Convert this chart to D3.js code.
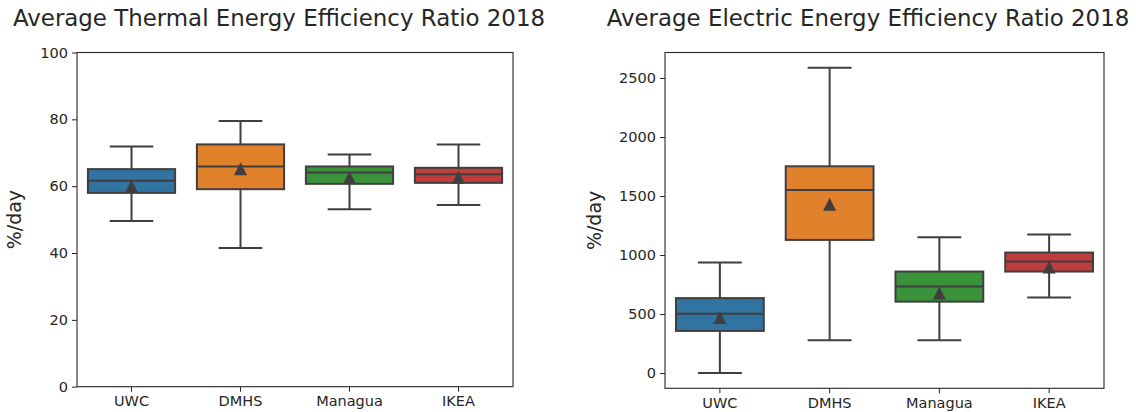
<!DOCTYPE html>
<html>
<head>
<meta charset="utf-8">
<script src="https://cdn.jsdelivr.net/npm/d3@7"></script>
<style>
  html, body { margin: 0; padding: 0; background: #ffffff; }
  svg { display: block; font-family: "DejaVu Sans", sans-serif; }
</style>
</head>
<body>
<svg id="chart" width="1136" height="412"></svg>
<script>
// Sites compared in both panels
const categories = ["UWC", "DMHS", "Managua", "IKEA"];

// Thermal energy efficiency ratio (%/day): whisker ends, quartiles, median, mean
const thermalLow    = [49.6, 41.5, 53.1, 54.4];
const thermalQ1     = [58.0, 59.1, 60.7, 61.0];
const thermalMedian = [61.6, 65.9, 64.1, 63.6];
const thermalQ3     = [65.1, 72.5, 65.9, 65.5];
const thermalHigh   = [71.9, 79.5, 69.5, 72.5];
const thermalMean   = [60.0, 65.2, 62.6, 62.7];

// Electric energy efficiency ratio (%/day)
const electricLow    = [0, 278, 278, 641];
const electricQ1     = [357, 1128, 605, 860];
const electricMedian = [503, 1552, 734, 945];
const electricQ3     = [635, 1752, 860, 1021];
const electricHigh   = [936, 2587, 1150, 1175];
const electricMean   = [470, 1430, 679, 899];

// Axis ticks
const thermalTicks  = [0, 20, 40, 60, 80, 100];
const electricTicks = [0, 500, 1000, 1500, 2000, 2500];

const colors = ["#3274a1", "#e1812c", "#3a923a", "#c03d3e"];
const lineColor = "#3f3f3f";
const textColor = "#262626";

const svg = d3.select("#chart");

function buildRows(low, q1, med, q3, high, mean) {
  return categories.map((c, i) => ({
    cat: c, low: low[i], q1: q1[i], med: med[i], q3: q3[i], high: high[i], mean: mean[i], color: colors[i]
  }));
}

function drawPanel(cfg) {
  const g = svg.append("g");
  const x = d3.scaleBand().domain(categories).range([cfg.left, cfg.right]).paddingInner(0).paddingOuter(0);
  const y = d3.scaleLinear().domain(cfg.domain).range([cfg.bottom, cfg.top]);
  const bw = x.bandwidth() * 0.8;
  const capW = bw / 2;

  // y axis
  const yAxis = g.append("g")
    .attr("transform", `translate(${cfg.left},0)`)
    .call(d3.axisLeft(y).tickValues(cfg.ticks).tickSize(5).tickPadding(4).tickFormat(d3.format("d")));
  // x axis
  const xAxis = g.append("g")
    .attr("transform", `translate(0,${cfg.bottom})`)
    .call(d3.axisBottom(x).tickSize(5).tickPadding(4));
  [yAxis, xAxis].forEach(a => {
    a.select(".domain").remove();
    a.selectAll(".tick line").attr("stroke", textColor).attr("stroke-width", 1);
    a.selectAll(".tick text").attr("fill", textColor).style("font-size", "14.5px")
      .style("font-family", "'DejaVu Sans', sans-serif");
  });

  const rows = buildRows(...cfg.data);
  const boxes = g.selectAll(".box").data(rows).join("g").attr("class", "box");
  const cx = d => x(d.cat) + x.bandwidth() / 2;

  // whiskers
  boxes.append("line")
    .attr("x1", cx).attr("x2", cx)
    .attr("y1", d => y(d.high)).attr("y2", d => y(d.q3))
    .attr("stroke", lineColor).attr("stroke-width", 2);
  boxes.append("line")
    .attr("x1", cx).attr("x2", cx)
    .attr("y1", d => y(d.q1)).attr("y2", d => y(d.low))
    .attr("stroke", lineColor).attr("stroke-width", 2);
  // caps
  boxes.append("line")
    .attr("x1", d => cx(d) - capW / 2).attr("x2", d => cx(d) + capW / 2)
    .attr("y1", d => y(d.high)).attr("y2", d => y(d.high))
    .attr("stroke", lineColor).attr("stroke-width", 2);
  boxes.append("line")
    .attr("x1", d => cx(d) - capW / 2).attr("x2", d => cx(d) + capW / 2)
    .attr("y1", d => y(d.low)).attr("y2", d => y(d.low))
    .attr("stroke", lineColor).attr("stroke-width", 2);
  // interquartile box
  boxes.append("rect")
    .attr("x", d => cx(d) - bw / 2).attr("width", bw)
    .attr("y", d => y(d.q3)).attr("height", d => y(d.q1) - y(d.q3))
    .attr("fill", d => d.color).attr("stroke", lineColor).attr("stroke-width", 2);
  // median
  boxes.append("line")
    .attr("x1", d => cx(d) - bw / 2).attr("x2", d => cx(d) + bw / 2)
    .attr("y1", d => y(d.med)).attr("y2", d => y(d.med))
    .attr("stroke", lineColor).attr("stroke-width", 2);
  // mean marker (upward triangle)
  const tw = 13, th = 13;
  boxes.append("path")
    .attr("d", `M0,${-th / 2}L${tw / 2},${th / 2}L${-tw / 2},${th / 2}Z`)
    .attr("transform", d => `translate(${cx(d)},${y(d.mean)})`)
    .attr("fill", lineColor);

  // frame
  g.append("rect")
    .attr("x", cfg.left).attr("y", cfg.top)
    .attr("width", cfg.right - cfg.left).attr("height", cfg.bottom - cfg.top)
    .attr("fill", "none").attr("stroke", textColor).attr("stroke-width", 1.1);

  // title
  g.append("text")
    .attr("x", cfg.titleX).attr("y", 26)
    .attr("text-anchor", "middle")
    .attr("fill", textColor)
    .style("font-size", "22.9px")
    .text(cfg.title);

  // y label
  g.append("text")
    .attr("transform", `translate(${cfg.ylabelX},${(cfg.top + cfg.bottom) / 2}) rotate(-90)`)
    .attr("text-anchor", "middle")
    .attr("fill", textColor)
    .style("font-size", "19px")
    .text("%/day");
}

drawPanel({
  left: 77, right: 513, top: 52.5, bottom: 386.7,
  domain: [0, 100], ticks: thermalTicks,
  data: [thermalLow, thermalQ1, thermalMedian, thermalQ3, thermalHigh, thermalMean],
  title: "Average Thermal Energy Efficiency Ratio 2018", titleX: 279, ylabelX: 21
});

const eMin = d3.min(electricLow), eMax = d3.max(electricHigh);
const pad = (eMax - eMin) * 0.05;
drawPanel({
  left: 665, right: 1104, top: 52.5, bottom: 388.3,
  domain: [eMin - pad, eMax + pad], ticks: electricTicks,
  data: [electricLow, electricQ1, electricMedian, electricQ3, electricHigh, electricMean],
  title: "Average Electric Energy Efficiency Ratio 2018", titleX: 868, ylabelX: 601
});
</script>
</body>
</html>
